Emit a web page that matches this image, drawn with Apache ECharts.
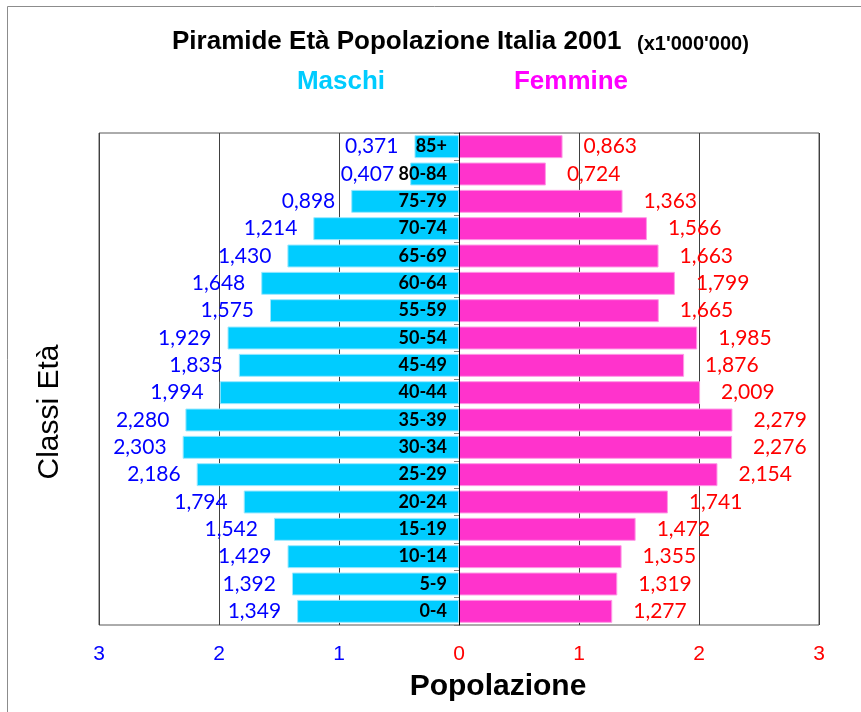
<!DOCTYPE html>
<html>
<head>
<meta charset="utf-8">
<script src="https://cdn.jsdelivr.net/npm/echarts@6/dist/echarts.min.js"></script>
<style>
  html, body { margin: 0; padding: 0; background: #fff; }
  #chart { width: 861px; height: 712px; }
</style>
</head>
<body>
<div id="chart"></div>
<script>
// age classes from bottom (youngest) to top
const ageClasses = ['0-4', '5-9', '10-14', '15-19', '20-24', '25-29', '30-34', '35-39', '40-44',
  '45-49', '50-54', '55-59', '60-64', '65-69', '70-74', '75-79', '80-84', '85+']
// millions
const males = [1.349, 1.392, 1.429, 1.542, 1.794, 2.186, 2.303, 2.280, 1.994,
  1.835, 1.929, 1.575, 1.648, 1.430, 1.214, 0.898, 0.407, 0.371]
const females = [1.277, 1.319, 1.355, 1.472, 1.741, 2.154, 2.276, 2.279, 2.009,
  1.876, 1.985, 1.665, 1.799, 1.663, 1.566, 1.363, 0.724, 0.863]
const axisMin = -3, axisMax = 3, axisStep = 1

const fmt = v => Math.abs(v).toFixed(3).replace('.', ',')
const head = 'Liberation Sans, Arial, sans-serif'
const body = 'Lato, Calibri, sans-serif'

const chart = echarts.init(document.getElementById('chart'))
chart.setOption({
  animation: false,
  backgroundColor: '#fff',
  grid: { left: 99, top: 133, width: 720, height: 492, show: true, borderColor: '#595959', borderWidth: 1 },
  xAxis: {
    type: 'value', min: axisMin, max: axisMax, interval: axisStep,
    axisLine: { show: false }, axisTick: { show: false },
    splitLine: { lineStyle: { color: '#404040', width: 1 } },
    axisLabel: {
      margin: 19, fontSize: 21, fontFamily: head,
      color: v => Number(v) < 0 ? '#0000ff' : '#ff0000',
      formatter: v => String(Math.abs(v)),
    },
  },
  yAxis: {
    type: 'category', data: ageClasses, z: 5, offset: -360,
    axisLine: { onZero: false, lineStyle: { color: '#000', width: 1 } },
    axisTick: { show: true, length: 5, lineStyle: { color: '#808080' } },
    axisLabel: { margin: 12, fontFamily: body, fontWeight: 'bold', fontSize: 18, color: '#000' },
  },
  series: [
    { name: 'Maschi', type: 'bar', data: males.map(v => -v), barWidth: '84%', barGap: '-100%',
      itemStyle: { color: '#00ccff', borderColor: '#9be8ff', borderWidth: 1 },
      label: { show: true, position: 'left', distance: 16, formatter: p => fmt(p.value),
        color: '#0000ff', fontFamily: body, fontSize: 21, padding: [4, 0, 0, 0] } },
    { name: 'Femmine', type: 'bar', data: females, barWidth: '84%', barGap: '-100%',
      itemStyle: { color: '#ff33cc', borderColor: '#ff99e6', borderWidth: 1 },
      label: { show: true, position: 'right', distance: 21, formatter: p => fmt(p.value),
        color: '#ff0000', fontFamily: body, fontSize: 21, padding: [4, 0, 0, 0] } },
  ],
  graphic: [
    { type: 'rect', silent: true, shape: { x: 7.5, y: 6.5, width: 900, height: 800 },
      style: { fill: 'none', stroke: '#8c8c8c', lineWidth: 1 } },
    { type: 'text', x: 172, y: 42, style: { text: 'Piramide Età Popolazione Italia 2001',
      font: 'bold 26px ' + head, fill: '#000', verticalAlign: 'middle' } },
    { type: 'text', x: 637, y: 44, style: { text: "(x1'000'000)",
      font: 'bold 20px ' + head, fill: '#000', verticalAlign: 'middle' } },
    { type: 'text', x: 341, y: 82, style: { text: 'Maschi', font: 'bold 26px ' + head,
      fill: '#00ccff', align: 'center', verticalAlign: 'middle' } },
    { type: 'text', x: 571, y: 82, style: { text: 'Femmine', font: 'bold 26px ' + head,
      fill: '#ff00ff', align: 'center', verticalAlign: 'middle' } },
    { type: 'text', x: 498, y: 687, style: { text: 'Popolazione', font: 'bold 30px ' + head,
      fill: '#000', align: 'center', verticalAlign: 'middle' } },
    { type: 'text', x: 50, y: 412, rotation: Math.PI / 2, style: { text: 'Classi Età',
      font: '30px ' + head, fill: '#000', align: 'center', verticalAlign: 'middle' } },
  ],
})
</script>
</body>
</html>
